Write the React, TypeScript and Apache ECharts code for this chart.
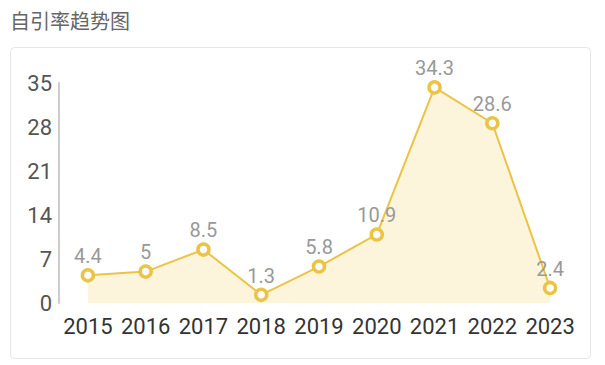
import React, { useEffect, useRef } from "react";
import * as echarts from "echarts";

const titleText = "自引率趋势图";
const years = ["2015", "2016", "2017", "2018", "2019", "2020", "2021", "2022", "2023"];
const values = [4.4, 5, 8.5, 1.3, 5.8, 10.9, 34.3, 28.6, 2.4];

export default function App() {
  const ref = useRef<HTMLDivElement>(null);
  useEffect(() => {
    const chart = echarts.init(ref.current!, null, { renderer: "svg" });
    chart.setOption({
      animation: false,
      backgroundColor: "#ffffff",
      title: {
        text: titleText,
        left: 5,
        top: 5,
        textStyle: { fontSize: 20, fontWeight: "normal", color: "#666666", fontFamily: "Noto Sans CJK SC" },
      },
      graphic: [
        {
          type: "rect",
          left: 10,
          top: 47,
          shape: { width: 580, height: 311, r: 4 },
          style: { fill: "#ffffff", stroke: "#e6e6e6", lineWidth: 1 },
          z: -1,
        },
      ],
      grid: { left: 59, right: 26, top: 83, bottom: 62 },
      xAxis: {
        type: "category",
        data: years,
        boundaryGap: true,
        axisLine: { show: false },
        axisTick: { show: false },
        axisLabel: { fontSize: 22, color: "#333333", margin: 12, fontFamily: "Roboto", interval: 0 },
      },
      yAxis: {
        type: "value",
        min: 0,
        max: 35,
        interval: 7,
        splitLine: { show: false },
        axisLine: { show: true, lineStyle: { color: "#cccccc", width: 2 } },
        axisTick: { show: false },
        axisLabel: { fontSize: 22, color: "#555555", margin: 7, fontFamily: "Roboto" },
      },
      series: [
        {
          type: "line",
          data: values,
          symbol: "circle",
          symbolSize: 11,
          lineStyle: { color: "#ebc345", width: 2 },
          itemStyle: { color: "#ffffff", borderWidth: 3.5, borderColor: "#ebc345" },
          areaStyle: { color: "rgba(250, 220, 145, 0.45)" },
          label: { show: true, position: "top", fontSize: 20, color: "#999999", fontFamily: "Roboto", distance: 2 },
        },
      ],
    });
    return () => chart.dispose();
  }, []);
  return <div ref={ref} style={{ position: "absolute", left: 0, top: 0, width: 605, height: 365 }} />;
}
